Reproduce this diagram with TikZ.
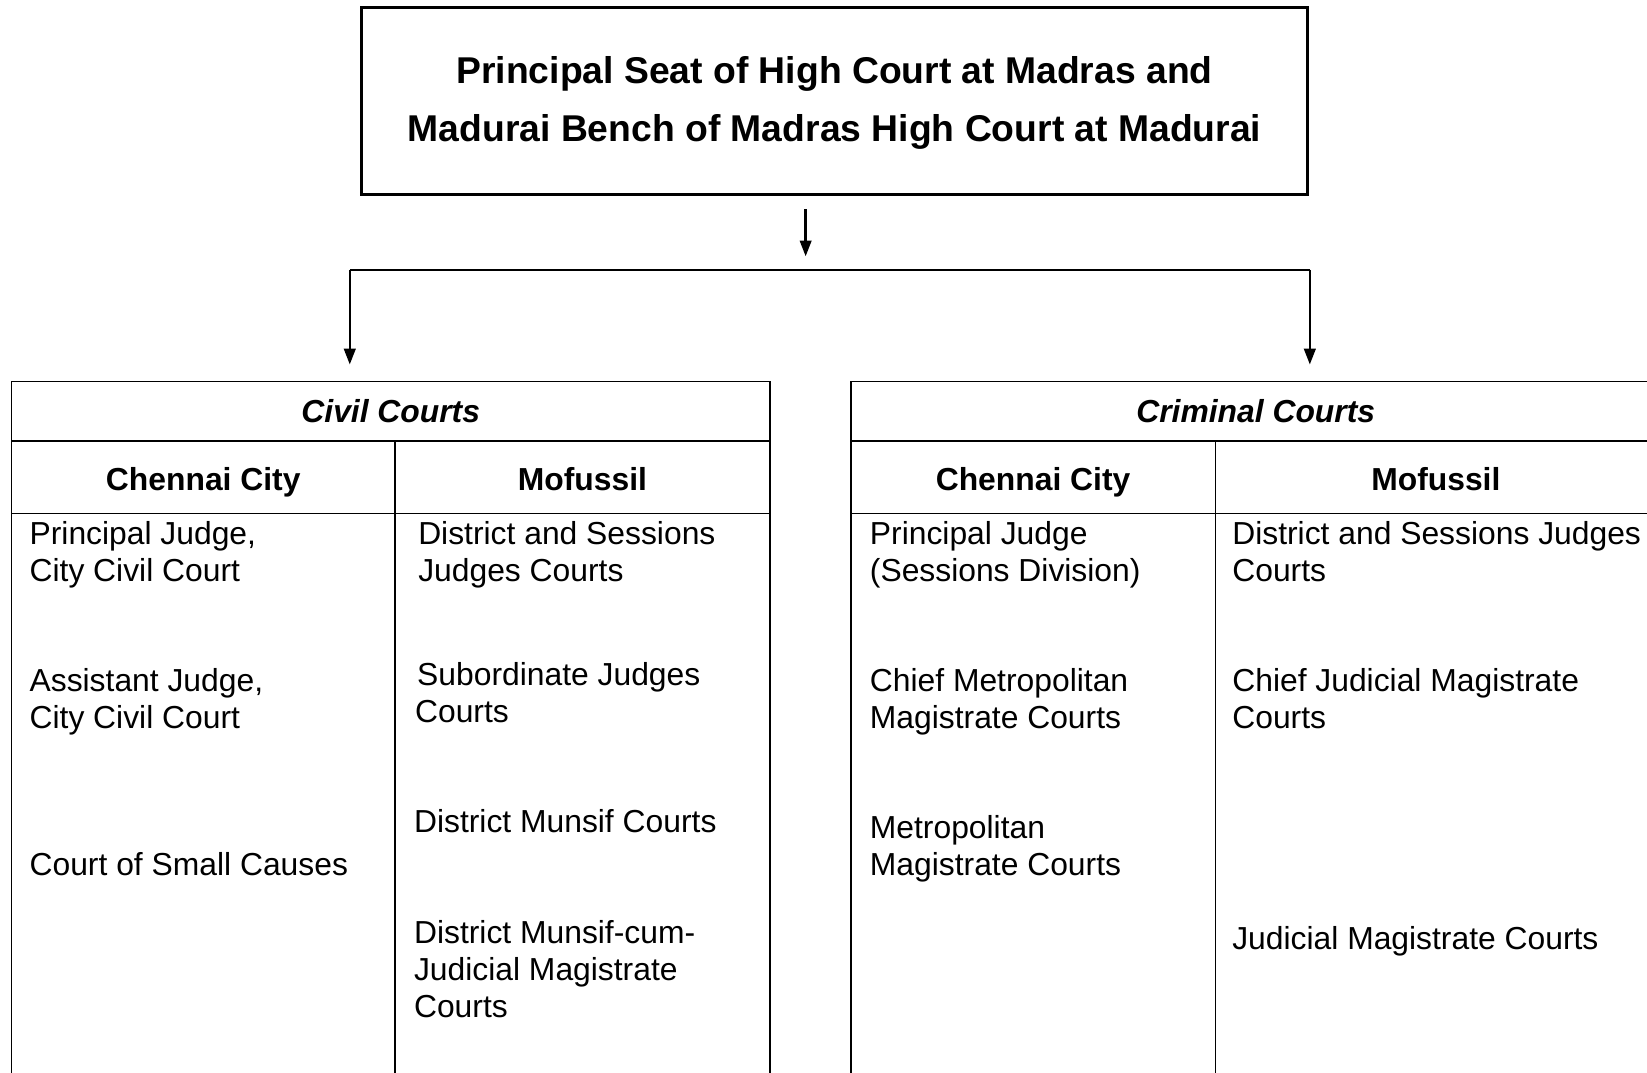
\documentclass[tikz,border=0pt]{standalone}
\usepackage{fontspec}
\setmainfont{Liberation Sans}
\usetikzlibrary{arrows.meta}
\begin{document}
\begin{tikzpicture}[x=1pt,y=-1pt,
  tline/.style={line width=1.4pt},
  conn/.style={line width=2.2pt},
  arr/.style={conn,-{Triangle[length=15pt,width=11pt]}},
  body/.style={anchor=base west,inner sep=0pt,yshift=-1.5pt,font=\fontsize{30.3}{35}\selectfont},
  colhead/.style={anchor=base,inner sep=0pt,yshift=-2pt,font=\fontsize{30.3}{35}\selectfont\bfseries},
  tabhead/.style={anchor=base,inner sep=0pt,yshift=-2pt,font=\fontsize{30.3}{35}\selectfont\bfseries\itshape}]
\useasboundingbox (0,0) rectangle (1568,1020.6);

% top box
\node[draw,line width=3pt,minimum width=901pt,minimum height=178pt,inner sep=0pt] (hc) at (794.5,96) {};
\node[inner sep=0pt,align=center,font=\fontsize{35.5}{56}\selectfont\bfseries] (hct) at (794.5,98)
  {Principal Seat of High Court at Madras and\\Madurai Bench of Madras High Court at Madurai};

% connectors
\coordinate (a1) at (767,199);
\coordinate (a2) at (767,244);
\coordinate (bl) at (333,257);
\coordinate (br) at (1247,257);
\coordinate (tl) at (333,347);
\coordinate (tr) at (1247,347);
\draw[arr] (a1) -- (a2);
\draw[arr] (bl) -- (tl);
\draw[arr] (br) -- (tr);
\draw[conn] (bl) -- (br);

% civil table
\draw[tline] (11,1030) -- (11,363) -- (733,363) -- (733,1030);
\draw[tline] (11,420) -- (733,420);
\draw[tline] (11,489) -- (733,489);
\draw[tline] (376,420) -- (376,1030);

% criminal table
\draw[tline] (810,1030) -- (810,363) -- (1600,363);
\draw[tline] (810,420) -- (1600,420);
\draw[tline] (810,489) -- (1600,489);
\draw[tline] (1157,420) -- (1157,1030);

% headers
\node[tabhead] (civ) at (372,400.6) {Civil Courts};
\node[colhead] (civcc) at (193.5,464.5) {Chennai City};
\node[colhead] (civmo) at (554.5,464.5) {Mofussil};
\node[tabhead] (cri) at (1195.5,400.6) {Criminal Courts};
\node[colhead] (cricc) at (983.5,464.5) {Chennai City};
\node[colhead] (crimo) at (1367,464.5) {Mofussil};

% civil - Chennai City
\node[body] (c1a) at (28,517) {Principal Judge,};
\node[body] (c1b) at (28,552) {City Civil Court};
\node[body] (c2a) at (28,657) {Assistant Judge,};
\node[body] (c2b) at (28,692) {City Civil Court};
\node[body] (c3a) at (28,832) {Court of Small Causes};

% civil - Mofussil
\node[body] (m1a) at (398,517) {District and Sessions};
\node[body] (m1b) at (398,552) {Judges Courts};
\node[body] (m2a) at (397,651) {Subordinate Judges};
\node[body] (m2b) at (395,686) {Courts};
\node[body] (m3a) at (394,791) {District Munsif Courts};
\node[body] (m4a) at (394,897) {District Munsif-cum-};
\node[body] (m4b) at (394,932) {Judicial Magistrate};
\node[body] (m4c) at (394,967) {Courts};

% criminal - Chennai City
\node[body] (k1a) at (828,517) {Principal Judge};
\node[body] (k1b) at (828,552) {(Sessions Division)};
\node[body] (k2a) at (828,657) {Chief Metropolitan};
\node[body] (k2b) at (828,692) {Magistrate Courts};
\node[body] (k3a) at (828,797) {Metropolitan};
\node[body] (k3b) at (828,832) {Magistrate Courts};

% criminal - Mofussil
\node[body] (n1a) at (1173,517) {District and Sessions Judges};
\node[body] (n1b) at (1173,552) {Courts};
\node[body] (n2a) at (1173,657) {Chief Judicial Magistrate};
\node[body] (n2b) at (1173,692) {Courts};
\node[body] (n3a) at (1173,902) {Judicial Magistrate Courts};
\end{tikzpicture}
\end{document}
